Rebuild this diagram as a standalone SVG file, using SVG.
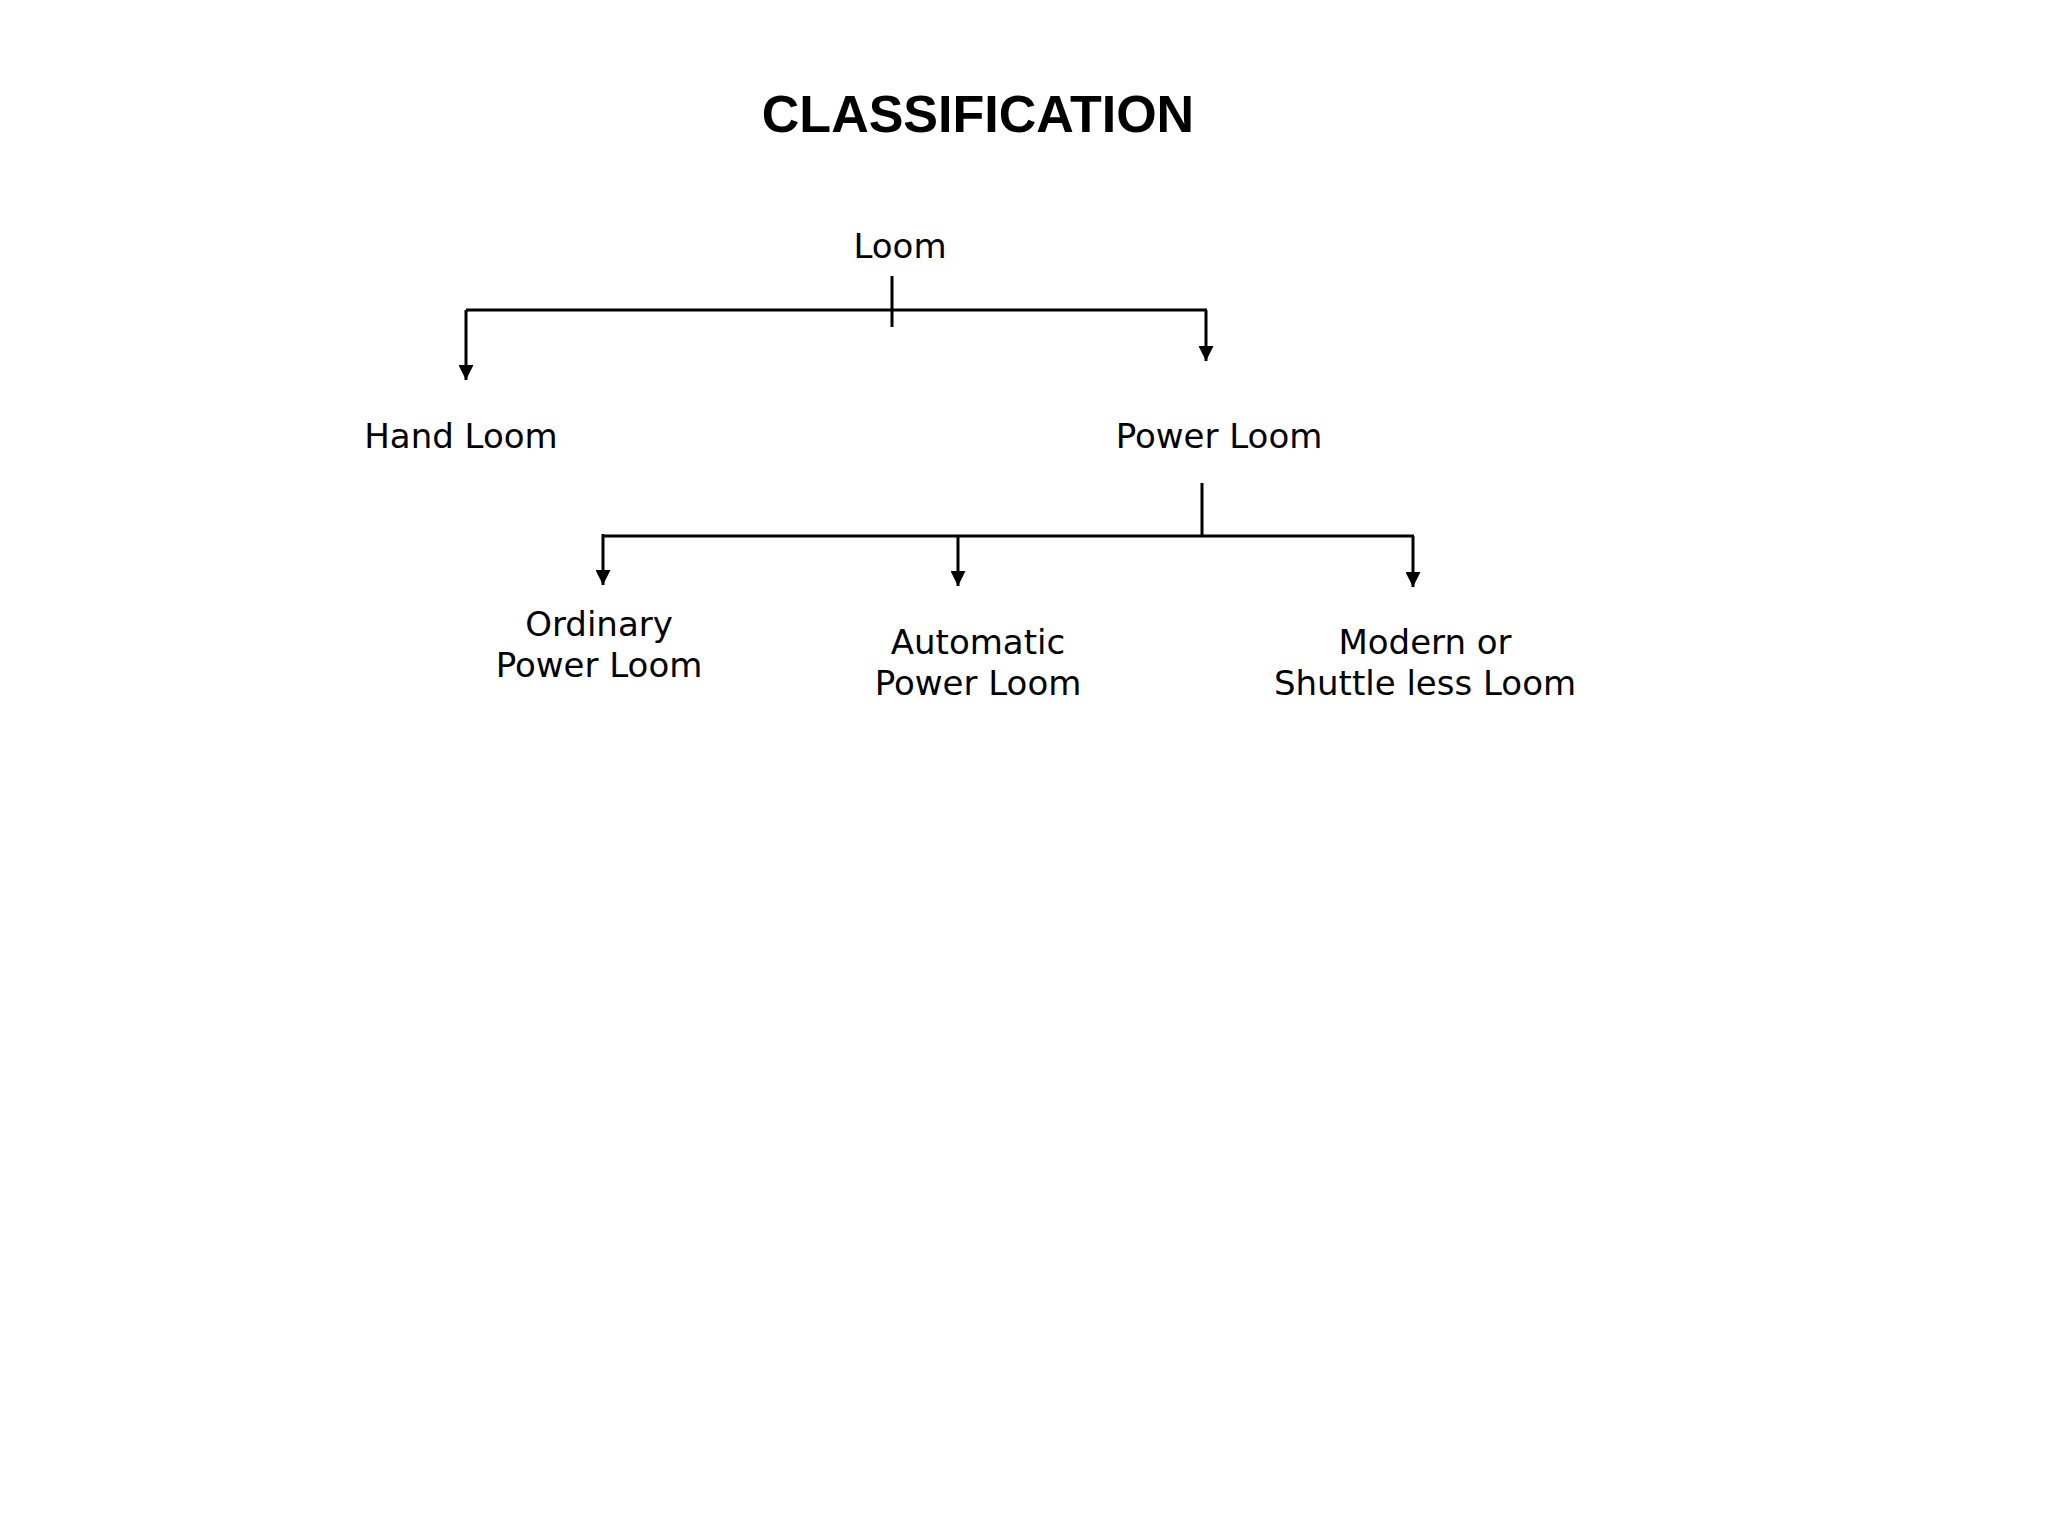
<svg xmlns="http://www.w3.org/2000/svg" width="2048" height="1536" viewBox="0 0 2048 1536">
<style>
.t{font-family:"DejaVu Sans",Verdana,sans-serif;font-size:34px;fill:#000;text-anchor:middle}
.h{font-family:"Liberation Sans",Arial,sans-serif;font-size:52px;font-weight:bold;text-anchor:middle}
.c{stroke:#000;stroke-width:3;fill:none}
</style>
<defs><marker id="a" viewBox="0 0 10 10" refX="10" refY="5" markerWidth="5" markerHeight="5" markerUnits="strokeWidth" orient="auto"><path d="M0,0L10,5L0,10z" fill="#000"/></marker></defs>
<rect width="2048" height="1536" fill="#fff"/>
<text class="h" x="978" y="132">CLASSIFICATION</text>
<g id="loom"><text class="t" x="900" y="258">Loom</text></g>
<g id="hand"><text class="t" x="461" y="448">Hand Loom</text></g>
<g id="power"><text class="t" x="1219" y="448">Power Loom</text></g>
<g id="ordinary"><text class="t" x="599" y="636">Ordinary</text><text class="t" x="599" y="677">Power Loom</text></g>
<g id="automatic"><text class="t" x="978" y="654">Automatic</text><text class="t" x="978" y="695">Power Loom</text></g>
<g id="modern"><text class="t" x="1425" y="654">Modern or</text><text class="t" x="1425" y="695">Shuttle less Loom</text></g>
<g id="connectors" class="c">
<line x1="892" y1="276" x2="892" y2="327"/>
<line x1="466" y1="310" x2="1207" y2="310"/>
<line x1="466" y1="310" x2="466" y2="380" marker-end="url(#a)"/>
<line x1="1206" y1="310" x2="1206" y2="361" marker-end="url(#a)"/>
<line x1="1202" y1="483" x2="1202" y2="536"/>
<line x1="603" y1="536" x2="1414" y2="536"/>
<line x1="603" y1="534" x2="603" y2="585" marker-end="url(#a)"/>
<line x1="958" y1="536" x2="958" y2="586" marker-end="url(#a)"/>
<line x1="1413" y1="536" x2="1413" y2="587" marker-end="url(#a)"/>
</g>
</svg>
